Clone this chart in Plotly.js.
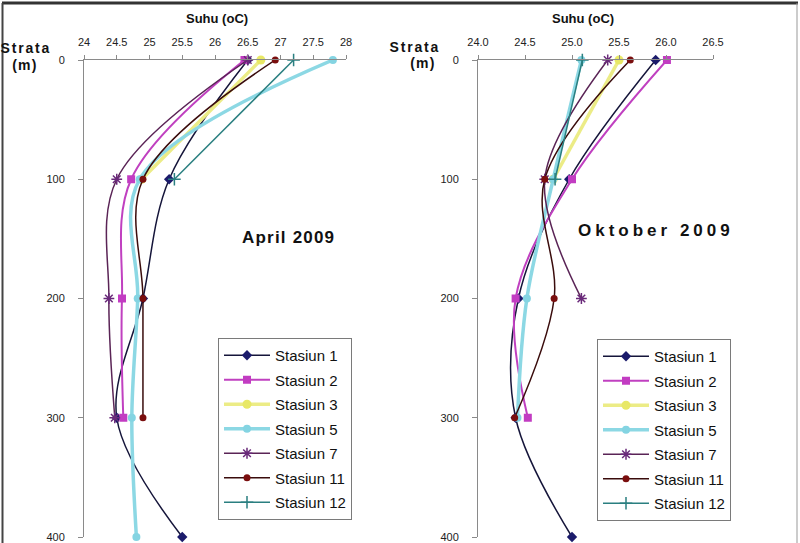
<!DOCTYPE html>
<html>
<head>
<meta charset="utf-8">
<script src="https://cdn.plot.ly/plotly-3.0.1.min.js"></script>
<style>
  html, body { margin: 0; padding: 0; background: #fff; }
  #chart { width: 800px; height: 543px; }
  /* wide-tracked bold captions */
  #chart g.annotation[data-index="2"] text,
  #chart g.annotation[data-index="4"] text { letter-spacing: 1.8px; }
  #chart g.annotation[data-index="3"] text,
  #chart g.annotation[data-index="5"] text { letter-spacing: 1.2px; }
  #chart g.annotation[data-index="6"] text { letter-spacing: 1.2px; }
  #chart g.annotation[data-index="7"] text { letter-spacing: 4px; }
</style>
</head>
<body>
<div id="chart"></div>
<script>
// Depth levels (m)
const depths = [0, 100, 200, 300, 400];

// Station names
const stations = ["Stasiun 1", "Stasiun 2", "Stasiun 3", "Stasiun 5", "Stasiun 7", "Stasiun 11", "Stasiun 12"];

// Temperature profiles, April 2009 (°C)
const aprSt1  = [26.5, 25.3, 24.9, 24.5, 25.5];
const aprSt2  = [26.45, 24.72, 24.58, 24.6];
const aprSt3  = [26.7, 24.88];
const aprSt5  = [27.8, 24.85, 24.82, 24.73, 24.8];
const aprSt7  = [26.5, 24.5, 24.38, 24.47];
const aprSt11 = [26.92, 24.9, 24.9, 24.9];
const aprSt12 = [27.2, 25.38];

// Temperature profiles, Oktober 2009 (°C)
const oktSt1  = [25.89, 24.97, 24.43, 24.4, 25.0];
const oktSt2  = [26.01, 25.0, 24.4, 24.53];
const oktSt3  = [25.5, 24.8];
const oktSt5  = [25.1, 24.8, 24.52, 24.42];
const oktSt7  = [25.38, 24.71, 25.1];
const oktSt11 = [25.62, 24.71, 24.81, 24.39];
const oktSt12 = [25.11, 24.82];

// Per-station styling
const styles = [
  { line: "#15153a", width: 1.5, marker: { symbol: "diamond", size: 8, color: "#1b1b6b" } },
  { line: "#c040c0", width: 2,   marker: { symbol: "square", size: 8, color: "#c23cc2" } },
  { line: "#ecec86", width: 3.5, marker: { symbol: "circle", size: 9, color: "#e8e866" } },
  { line: "#8cd8e4", width: 3.5, marker: { symbol: "circle", size: 8, color: "#84d4e2" } },
  { line: "#5a2456", width: 1.5, marker: { symbol: "asterisk-open", size: 9, color: "#6a2a7a", line: { width: 1.5, color: "#6a2a7a" } } },
  { line: "#3a0c0c", width: 1.5, marker: { symbol: "circle", size: 7, color: "#7a0e0e" } },
  { line: "#2a7f80", width: 1.5, marker: { symbol: "cross-thin-open", size: 9, color: "#2a7f80", line: { width: 1.5, color: "#2a7f80" } } }
];

const aprSeries = [aprSt1, aprSt2, aprSt3, aprSt5, aprSt7, aprSt11, aprSt12];
const oktSeries = [oktSt1, oktSt2, oktSt3, oktSt5, oktSt7, oktSt11, oktSt12];

function profileTrace(values, i, xa, ya, legendId, groupPrefix) {
  const s = styles[i];
  const m = Object.assign({}, s.marker);
  return {
    type: "scatter",
    mode: "lines+markers",
    name: stations[i],
    x: values,
    y: depths.slice(0, values.length),
    xaxis: xa,
    yaxis: ya,
    legend: legendId,
    legendgroup: groupPrefix + i,
    line: { color: s.line, width: s.width, shape: "spline", smoothing: 1 },
    marker: m,
    cliponaxis: false
  };
}

const traces = [];
aprSeries.forEach((v, i) => traces.push(profileTrace(v, i, "x", "y", "legend", "a")));
oktSeries.forEach((v, i) => traces.push(profileTrace(v, i, "x2", "y2", "legend2", "o")));

const W = 800, H = 543;
const px = v => v / W;
const py = v => 1 - v / H;

const FAMILY = "Liberation Sans, Arial, sans-serif";
const tickFont = { family: FAMILY, size: 11, color: "#222" };

const xCommon = {
  side: "top", dtick: 0.5, showgrid: false, zeroline: false,
  showline: true, linecolor: "#8a8a8a", linewidth: 1,
  ticks: "outside", ticklen: 4, tickcolor: "#8a8a8a",
  ticklabelstandoff: 5,
  tickfont: tickFont, fixedrange: true
};
const yCommon = {
  range: [400, 0], dtick: 100, showgrid: false, zeroline: false,
  showline: true, linecolor: "#8a8a8a", linewidth: 1,
  ticks: "outside", ticklen: 5, tickcolor: "#8a8a8a",
  ticklabelstandoff: 11,
  tickfont: { family: FAMILY, size: 11, color: "#222" },
  domain: [1 - 537 / H, 1 - 60 / H], fixedrange: true
};

const legendCommon = {
  xanchor: "left", yanchor: "top",
  bgcolor: "#ffffff", bordercolor: "#7a7a7a", borderwidth: 1,
  font: { family: FAMILY, size: 15, color: "#111" },
  itemwidth: 46,
  traceorder: "grouped", tracegroupgap: 2
};

const boldFont = { family: FAMILY, size: 13, color: "#111" };
const capFont = { family: FAMILY, size: 14, color: "#111" };
const panelFont = { family: FAMILY, size: 17, color: "#111" };

function note(text, x, y, font, xanchor) {
  return { text: text, x: px(x), y: py(y), xref: "paper", yref: "paper",
           xanchor: xanchor || "center", yanchor: "middle", showarrow: false, font: font };
}

const layout = {
  width: W, height: H,
  margin: { l: 0, r: 0, t: 0, b: 0 },
  paper_bgcolor: "#ffffff",
  plot_bgcolor: "rgba(0,0,0,0)",
  showlegend: true,
  xaxis:  Object.assign({}, xCommon, { domain: [px(84), px(346)], range: [24, 28], anchor: "y" }),
  yaxis:  Object.assign({}, yCommon, { anchor: "x" }),
  xaxis2: Object.assign({}, xCommon, { domain: [px(478), px(713)], range: [24, 26.5], tickformat: ".1f", anchor: "y2" }),
  yaxis2: Object.assign({}, yCommon, { anchor: "x2" }),
  legend:  Object.assign({}, legendCommon, { x: px(218), y: py(338) }),
  legend2: Object.assign({}, legendCommon, { x: px(597), y: py(339) }),
  annotations: [
    note("<b>Suhu (oC)</b>", 217, 18, boldFont),
    note("<b>Suhu (oC)</b>", 583, 18, boldFont),
    note("<b>Strata</b>", 4, 48, capFont, "left"),
    note("<b>(m)</b>", 12, 65, capFont, "left"),
    note("<b>Strata</b>", 393, 47, capFont, "left"),
    note("<b>(m)</b>", 410, 63, capFont, "left"),
    note("<b>April 2009</b>", 288, 237, panelFont),
    note("<b>Oktober 2009</b>", 656, 230, panelFont)
  ],
  shapes: [
    // outer frame (open at the bottom)
    { type: "line", xref: "paper", yref: "paper", x0: px(2), x1: px(798), y0: py(3), y1: py(3), line: { color: "#333", width: 3 } },
    { type: "line", xref: "paper", yref: "paper", x0: px(2.5), x1: px(2.5), y0: py(3), y1: 0, line: { color: "#444", width: 2 } },
    { type: "line", xref: "paper", yref: "paper", x0: px(797), x1: px(797), y0: py(3), y1: 0, line: { color: "#999", width: 1 } }
  ]
};

Plotly.newPlot("chart", traces, layout, { displayModeBar: false, staticPlot: true });
</script>
</body>
</html>
